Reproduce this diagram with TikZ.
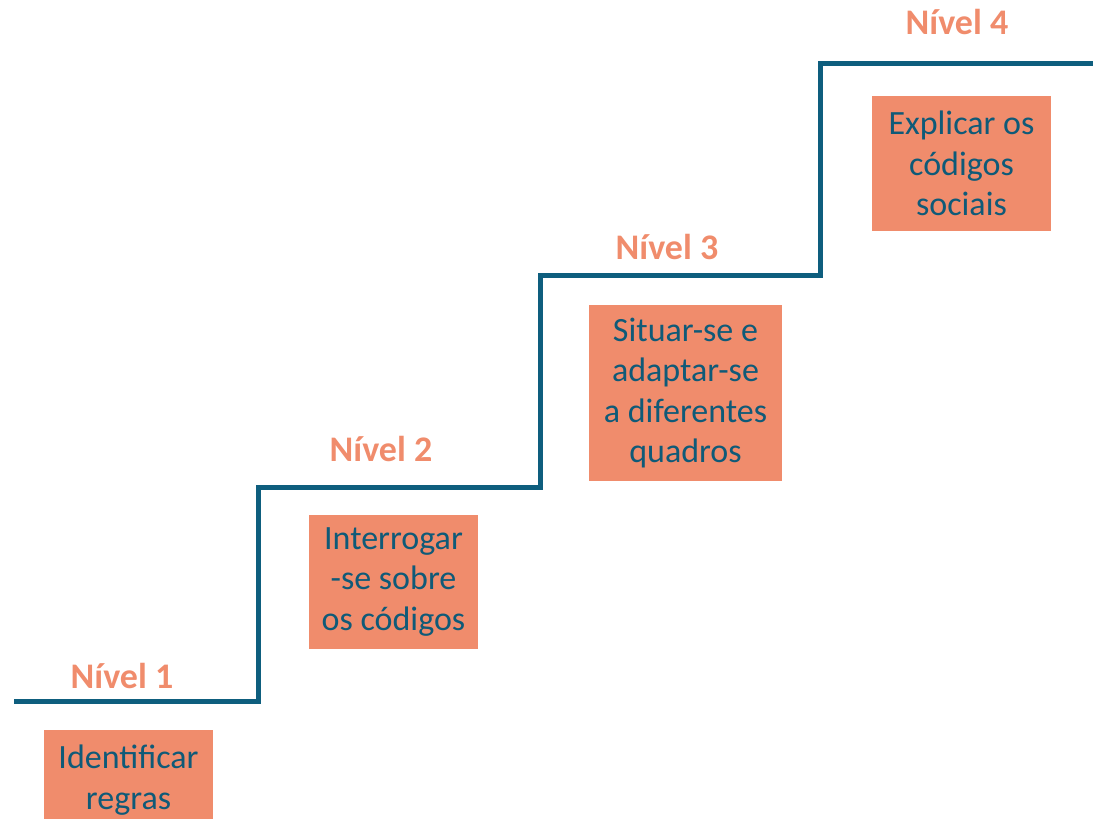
\documentclass[tikz,border=0pt]{standalone}
\usepackage{fontspec}
\setmainfont{Carlito}
\definecolor{stair}{HTML}{0E5E7E}
\definecolor{salmon}{HTML}{F08C6C}
\definecolor{boxtext}{HTML}{0F5A78}
\begin{document}
\begin{tikzpicture}[x=1pt,y=-1pt,
  stairline/.style={draw=stair,line width=5pt,line cap=butt,line join=miter},
  levelbox/.style={fill=salmon,draw=none,text=boxtext,align=center,font=\fontsize{34}{40.5}\selectfont,inner sep=0pt},
  levellabel/.style={text=salmon,font=\bfseries\fontsize{36}{40}\selectfont,inner sep=0pt}]
\useasboundingbox (0,0) rectangle (1093,819);
\clip (0,0) rectangle (1093,819);
\coordinate (s0) at (14,701);
\coordinate (s1) at (258,701);
\coordinate (s2) at (258,487);
\coordinate (s3) at (540,487);
\coordinate (s4) at (540,275);
\coordinate (s5) at (820,275);
\coordinate (s6) at (820,63);
\coordinate (s7) at (1100,63);
\draw[stairline] (s0) -- (s1) -- (s2) -- (s3) -- (s4) -- (s5) -- (s6) -- (s7);
\node[levellabel] (l1) at (122,676) {Nível 1};
\node[levellabel] (l2) at (381,449) {Nível 2};
\node[levellabel] (l3) at (667,247) {Nível 3};
\node[levellabel] (l4) at (957,22) {Nível 4};
\node[levelbox,minimum width=169pt,minimum height=100pt] (b1) at (128.5,780) {Identificar\\regras};
\node[levelbox,minimum width=169pt,minimum height=134pt] (b2) at (393.5,582) {Interrogar\\-se sobre\\os códigos};
\node[levelbox,minimum width=193pt,minimum height=176pt] (b3) at (685.5,393) {Situar-se e\\adaptar-se\\a diferentes\\quadros};
\node[levelbox,minimum width=179pt,minimum height=135pt] (b4) at (961.5,163.5) {Explicar os\\códigos\\sociais};
\end{tikzpicture}
\end{document}
